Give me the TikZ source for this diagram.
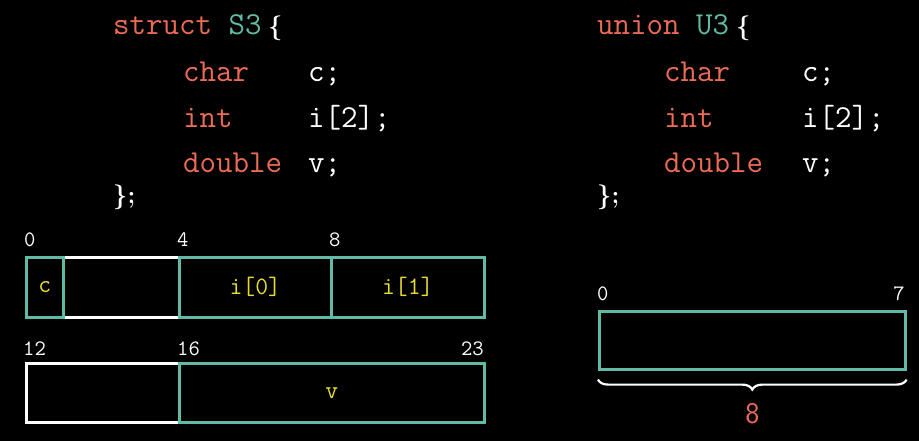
\documentclass[tikz,border=0pt]{standalone}
\usepackage{amsmath}
\usetikzlibrary{decorations.pathreplacing}
\definecolor{kw}{RGB}{236,107,86}
\definecolor{tl}{RGB}{97,186,166}
\definecolor{fld}{RGB}{232,220,50}
\begin{document}
\begin{tikzpicture}[x=1pt, y=-1pt,
        code/.style={anchor=base west, inner sep=0pt, text=white, font=\fontsize{32}{36}\selectfont\ttfamily},
        brc/.style={anchor=base west, inner sep=0pt, text=white, font=\fontsize{23}{26}\selectfont\boldmath},
        offs/.style={anchor=base west, inner sep=0pt, text=white, font=\fontsize{22}{26}\selectfont\ttfamily},
        cell/.style={draw=tl, line width=2.6pt, text=fld, inner sep=0pt, anchor=north west, font=\fontsize{25}{30}\selectfont\ttfamily},
        pad/.style={draw=white, line width=2.6pt, inner sep=0pt, anchor=north west}]
        % background and page size
        \fill[black] (0,0) rectangle (919,441);
        \useasboundingbox (0,0) rectangle (919,441);

        % struct S3 source
        \node[code] (sname) at (113,35) {\textcolor{kw}{struct} \textcolor{tl}{S3}};
        \node[brc] (sopen) at (268,35) {$\{$};
        \node[code, text=kw] (st1) at (183,82) {char};
        \node[code, text=kw] (st2) at (183,128) {int};
        \node[code, text=kw] (st3) at (183,173) {double};
        \node[code] (sv1) at (308,82) {c;};
        \node[code] (sv2) at (308,128) {i[2];};
        \node[code] (sv3) at (308,173) {v;};
        \node[brc] (sclose) at (113,204) {$\};$};

        % union U3 source
        \node[code] (uname) at (597,35) {\textcolor{kw}{union} \textcolor{tl}{U3}};
        \node[brc] (uopen) at (736,35) {$\{$};
        \node[code, text=kw] (ut1) at (664,82) {char};
        \node[code, text=kw] (ut2) at (664,128) {int};
        \node[code, text=kw] (ut3) at (664,173) {double};
        \node[code] (uv1) at (802,82) {c;};
        \node[code] (uv2) at (802,128) {i[2];};
        \node[code] (uv3) at (802,173) {v;};
        \node[brc] (uclose) at (597,204) {$\};$};

        % struct layout, first row
        \node[pad, minimum width=116, minimum height=60] (p1) at (62,256) {};
        \node[cell, minimum width=37, minimum height=60] (c) at (25,256) {c};
        \node[cell, minimum width=152, minimum height=60] (i0) at (178,256) {i[0]};
        \node[cell, minimum width=153, minimum height=60] (i1) at (330,256) {i[1]};
        \node[offs] (o0) at (24,247) {0};
        \node[offs] (o4) at (177,247) {4};
        \node[offs] (o8) at (329,247) {8};

        % struct layout, second row
        \node[pad, minimum width=153, minimum height=59] (p2) at (25,362) {};
        \node[cell, minimum width=305, minimum height=59] (v) at (178,362) {v};
        \node[offs] (o12) at (23,355) {12};
        \node[offs] (o16) at (177,355) {16};
        \node[offs, anchor=base east] (o23) at (484,355) {23};

        % union layout
        \node[cell, minimum width=306, minimum height=58] (u) at (598,310) {};
        \node[offs] (u0) at (597,300) {0};
        \node[offs, anchor=base east] (u7) at (905,300) {7};
        \draw[white, line width=2.2pt, decorate, decoration={brace, mirror, amplitude=10pt}]
            ([yshift=-9pt]u.south west) -- ([yshift=-9pt]u.south east)
            node[midway, below=19pt, text=kw, font=\fontsize{30}{34}\selectfont\sffamily] (usize) {8};
    \end{tikzpicture}
\end{document}
